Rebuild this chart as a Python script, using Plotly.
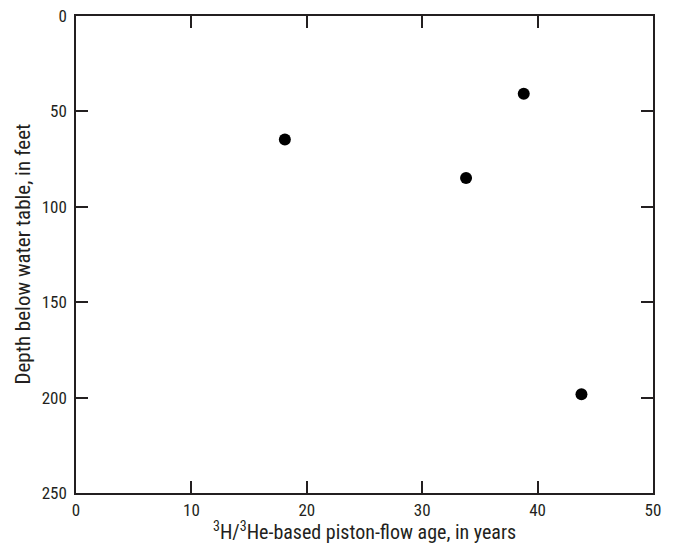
import plotly.graph_objects as go

age_years = [18.1, 33.8, 38.8, 43.8]
depth_feet = [64.7, 84.9, 40.7, 198.3]
x_ticks = [0, 10, 20, 30, 40, 50]
y_ticks = [0, 50, 100, 150, 200, 250]
x_title = "<sup>3</sup>H/<sup>3</sup>He-based piston-flow age, in years"
y_title = "Depth below water table, in feet"

font_family = "Liberation Sans Narrow, Arial Narrow, Roboto Condensed, sans-serif"
ink = "#231f20"

fig = go.Figure(go.Scatter(
    x=age_years, y=depth_feet, mode="markers",
    marker=dict(size=12, color="black"),
    showlegend=False,
))

axis_common = dict(
    showgrid=False, zeroline=False, showline=True, linecolor=ink, linewidth=1.5,
    mirror="allticks", ticks="inside", ticklen=12, tickwidth=1.5, tickcolor=ink,
    tickfont=dict(family=font_family, size=17, color=ink),
    automargin=False,
)

fig.update_layout(
    width=674, height=544,
    margin=dict(l=76, r=21, t=16, b=51),
    paper_bgcolor="white", plot_bgcolor="white",
    font=dict(family=font_family, color=ink),
    xaxis=dict(range=[0, 50], tickvals=x_ticks, ticktext=[str(v) for v in x_ticks],
               ticklabelstandoff=1, **axis_common),
    yaxis=dict(range=[250, 0], tickvals=y_ticks, ticktext=[str(v) for v in y_ticks],
               ticklabelstandoff=4, **axis_common),
    annotations=[
        dict(text=x_title, xref="paper", yref="paper", x=0.5, y=0,
             xanchor="center", yanchor="bottom", yshift=-53, showarrow=False,
             font=dict(family=font_family, size=20, color=ink)),
        dict(text=y_title, xref="paper", yref="paper", x=0, y=0.5,
             xanchor="center", yanchor="middle", xshift=-54, textangle=-90,
             showarrow=False, font=dict(family=font_family, size=21, color=ink)),
    ],
)

fig.write_html(
    "out.html",
    config={"displayModeBar": False},
    post_script="document.body.style.margin='0';document.body.style.overflow='hidden';",
)
